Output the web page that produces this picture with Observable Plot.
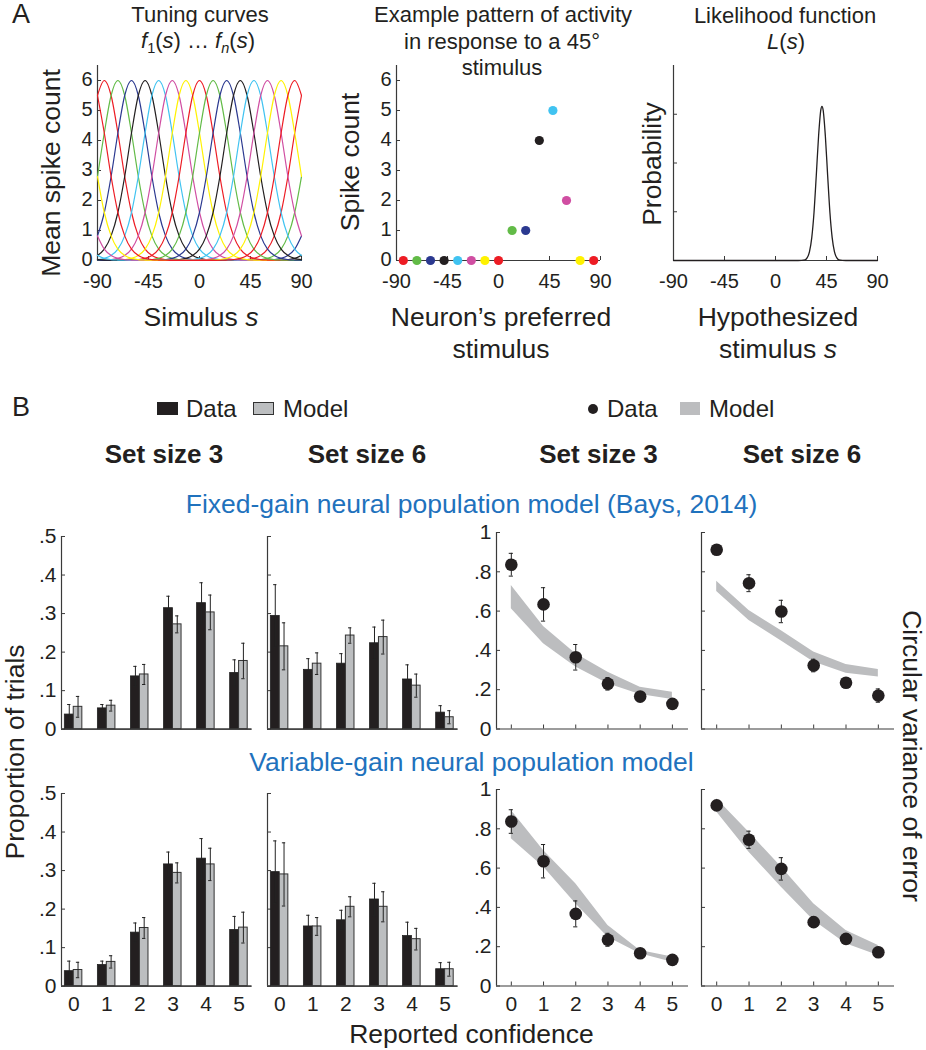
<!DOCTYPE html>
<html>
<head>
<meta charset="utf-8">
<script src="https://cdn.jsdelivr.net/npm/d3@7"></script>
<script src="https://cdn.jsdelivr.net/npm/@observablehq/plot@0.6"></script>
<style>
html,body{margin:0;padding:0;background:#fff;}
#fig{position:relative;width:926px;height:1050px;overflow:hidden;background:#fff;font-family:"Liberation Sans",Arial,Helvetica,sans-serif;color:#231f20;}
.t{position:absolute;white-space:nowrap;line-height:1;transform-origin:50% 50%;}
.box{position:absolute;box-sizing:border-box;}
</style>
</head>
<body>
<div id="fig"></div>
<script>
// ================= Panel A data =================
const stimulusGrid = [-90,-84,-78,-72,-66,-60,-54,-48,-42,-36,-30,-24,-18,-12,-6,0,6,12,18,24,30,36,42,48,54,60,66,72,78,84,90];
const preferredStimuli = [-84,-72,-60,-48,-36,-24,-12,0,12,24,36,48,60,72,84];
// tuning curve height read at distances (deg) from the preferred stimulus
const tuningDistance = [0,6,12,18,24,30,36,42,48,54,60,66,72,78,84,90];
const tuningRate = [6.0,5.5,4.25,2.8,1.6,0.82,0.38,0.17,0.07,0.03,0.015,0.008,0.004,0.003,0.002,0.002];
const spikeCounts = [0,0,0,0,0,0,0,0,1,1,4,5,2,0,0];
const likelihoodS = [-90,20,26,28,30,32,34,36,38,40,41,42,44,46,48,50,52,54,56,62,90];
const likelihoodL = [0,0,0.015,0.058,0.18,0.47,0.99,1.75,2.55,3.09,3.16,3.09,2.55,1.75,0.99,0.47,0.18,0.058,0.015,0,0];
const stimulusTicks = [-90,-45,0,45,90];
const countTicks = [0,1,2,3,4,5,6];
const probabilityTicks = [1,2,3];

// ================= Panel B data =================
const confidence = [0,1,2,3,4,5];
const proportionTicks = [0,0.1,0.2,0.3,0.4,0.5];
const varianceTicks = [0,0.2,0.4,0.6,0.8,1];

// Fixed-gain model: proportion of trials
const fixedSS3Data     = [0.038,0.054,0.137,0.314,0.327,0.146];
const fixedSS3DataErr  = [0.026,0.010,0.026,0.031,0.053,0.034];
const fixedSS3Model    = [0.058,0.061,0.142,0.272,0.303,0.177];
const fixedSS3ModelErr = [0.027,0.014,0.026,0.022,0.045,0.046];
const fixedSS6Data     = [0.294,0.154,0.170,0.223,0.129,0.043];
const fixedSS6DataErr  = [0.081,0.029,0.026,0.042,0.038,0.018];
const fixedSS6Model    = [0.215,0.170,0.243,0.239,0.113,0.031];
const fixedSS6ModelErr = [0.061,0.028,0.020,0.044,0.030,0.017];
// Variable-gain model: proportion of trials
const varSS3Data     = [0.039,0.055,0.139,0.316,0.331,0.146];
const varSS3DataErr  = [0.026,0.010,0.025,0.032,0.052,0.035];
const varSS3Model    = [0.042,0.063,0.151,0.294,0.316,0.152];
const varSS3ModelErr = [0.020,0.016,0.027,0.026,0.042,0.040];
const varSS6Data     = [0.296,0.155,0.171,0.225,0.130,0.044];
const varSS6DataErr  = [0.081,0.029,0.026,0.042,0.036,0.017];
const varSS6Model    = [0.290,0.155,0.206,0.206,0.122,0.044];
const varSS6ModelErr = [0.082,0.023,0.026,0.039,0.028,0.018];

// Circular variance of error
const fixedSS3Var    = [0.836,0.634,0.365,0.230,0.165,0.128];
const fixedSS3VarErr = [0.058,0.085,0.065,0.032,0.024,0.008];
const fixedSS3BandHi = [0.730,0.522,0.383,0.289,0.213,0.187];
const fixedSS3BandLo = [0.612,0.434,0.315,0.230,0.176,0.150];
const fixedSS6Var    = [0.912,0.742,0.598,0.323,0.235,0.170];
const fixedSS6VarErr = [0.015,0.043,0.057,0.032,0.010,0.034];
const fixedSS6BandHi = [0.752,0.603,0.500,0.392,0.328,0.303];
const fixedSS6BandLo = [0.700,0.552,0.448,0.341,0.284,0.264];
const varSS3Var    = [0.837,0.635,0.367,0.235,0.167,0.133];
const varSS3VarErr = [0.060,0.085,0.066,0.033,0.023,0.008];
const varSS3BandHi = [0.893,0.690,0.520,0.308,0.181,0.147];
const varSS3BandLo = [0.749,0.605,0.418,0.248,0.164,0.121];
const varSS6Var    = [0.919,0.744,0.596,0.325,0.240,0.172];
const varSS6VarErr = [0.015,0.044,0.057,0.027,0.010,0.025];
const varSS6BandHi = [0.953,0.783,0.605,0.418,0.282,0.206];
const varSS6BandLo = [0.885,0.681,0.503,0.333,0.215,0.155];

// ================= styles =================
const FONT = '"Liberation Sans", Arial, Helvetica, sans-serif';
const INK = "#231f20";
const AXIS = "#3a3a3a";
const BAR_GRAY = "#bcbec0";
const BAND_GRAY = "#bcbdbf";
const BLUE = "#1f72bd";
const palette = ["#ed1c24","#62bb47","#2b3990","#231f20","#40c3f1","#d04ea2","#fff200"];

const fig = document.getElementById("fig");

function makePlot({left, top, w, h, xd, yd, marks, identity}) {
  const mL = 45, mR = 15, mT = 15, mB = 40;
  const opts = {
    width: mL + w + mR, height: mT + h + mB,
    marginLeft: mL, marginRight: mR, marginTop: mT, marginBottom: mB,
    x: {domain: xd, axis: null},
    y: {domain: yd, axis: null},
    style: {fontFamily: FONT, fontSize: "21px", color: INK, background: "transparent", overflow: "visible", maxWidth: "none"},
    marks
  };
  if (identity) opts.color = {type: "identity"};
  const svg = Plot.plot(opts);
  svg.style.position = "absolute";
  svg.style.left = (left - mL) + "px";
  svg.style.top = (top - mT) + "px";
  fig.appendChild(svg);
}

function frameAxes({xd, yd, w, h, xTicks, yTicks, xLabels, yLabels, xFmt, yFmt, xPad = 10, fs = 21, yDy = 0}) {
  const px = (xd[1] - xd[0]) / w, py = (yd[1] - yd[0]) / h;
  const m = [
    Plot.ruleX([xd[0]], {stroke: AXIS, strokeWidth: 1.2}),
    Plot.ruleY([yd[0]], {stroke: AXIS, strokeWidth: 1.2})
  ];
  if (yTicks) m.push(Plot.ruleY(yTicks, {y: d => d, x1: xd[0], x2: xd[0] + 4 * px, stroke: AXIS}));
  if (xTicks) m.push(Plot.ruleX(xTicks, {x: d => d, y1: yd[0], y2: yd[0] + 4 * py, stroke: AXIS}));
  if (yLabels) m.push(Plot.axisY(yTicks, {tickSize: 0, tickPadding: 5, tickFormat: yFmt, fontSize: fs, label: null, fill: INK, dy: yDy}));
  if (xLabels) m.push(Plot.axisX(xTicks, {tickSize: 0, tickPadding: xPad, tickFormat: xFmt, fontSize: fs, label: null, fill: INK}));
  return m;
}

function txt(html, x, y, o = {}) {
  const el = document.createElement("div");
  el.className = "t";
  el.innerHTML = html;
  el.style.fontSize = (o.size || 22) + "px";
  if (o.bold) el.style.fontWeight = "bold";
  if (o.color) el.style.color = o.color;
  el.style.left = x + "px";
  el.style.top = y + "px";
  const tx = o.anchor === "start" ? "0" : "-50%";
  el.style.transform = `translate(${tx},-50%)` + (o.rotate ? ` rotate(${o.rotate}deg)` : "");
  fig.appendChild(el);
}
function box(x, y, w, h, css) {
  const el = document.createElement("div");
  el.className = "box";
  Object.assign(el.style, {left: x + "px", top: y + "px", width: w + "px", height: h + "px"}, css);
  fig.appendChild(el);
}

const numFmt = d => String(d);
const fracFmt = d => d === 0 ? "0" : d === 1 ? "1" : "." + Math.round(d * 10);

// ================= Panel A =================
// tuning curves
const tuningRows = [];
preferredStimuli.forEach((p, i) => {
  stimulusGrid.forEach(s => {
    let d = Math.abs(s - p) % 180;
    d = Math.min(d, 180 - d);
    tuningRows.push({neuron: i, s, rate: tuningRate[tuningDistance.indexOf(d)], color: palette[i % palette.length]});
  });
});
const aAxis = {xLabels: true, xFmt: numFmt, yFmt: numFmt, xPad: 13.5, fs: 20, yDy: -1};
{
  const g = {w: 204, h: 195, xd: [-90, 90], yd: [0, 6.5]};
  makePlot({left: 97, top: 65, ...g, identity: true, marks: [
    ...frameAxes({...g, ...aAxis, xTicks: stimulusTicks, yTicks: countTicks, yLabels: true}),
    Plot.line(tuningRows, {x: "s", y: "rate", z: "neuron", stroke: "color", strokeWidth: 1.2, curve: "monotone-x"})
  ]});
}
// example spike counts
const spikeRows = preferredStimuli.map((p, i) => ({p, n: spikeCounts[i], color: palette[i % palette.length]}));
{
  const g = {w: 204, h: 195, xd: [-90, 90], yd: [0, 6.5]};
  makePlot({left: 395.5, top: 65, ...g, identity: true, marks: [
    ...frameAxes({...g, ...aAxis, xTicks: stimulusTicks, yTicks: countTicks, yLabels: true}),
    Plot.dot(spikeRows, {x: "p", y: "n", fill: "color", r: 4.6})
  ]});
}
// likelihood
const likeRows = likelihoodS.map((s, i) => ({s, L: likelihoodL[i]}));
{
  const g = {w: 204, h: 195, xd: [-90, 90], yd: [0, 4]};
  makePlot({left: 673, top: 65, ...g, marks: [
    ...frameAxes({...g, ...aAxis, xTicks: stimulusTicks, yTicks: probabilityTicks, yLabels: false}),
    Plot.line(likeRows, {x: "s", y: "L", stroke: INK, strokeWidth: 1.3, curve: "monotone-x"})
  ]});
}

// ================= Panel B =================
function errorBars(rows, fx, v, e, cap) {
  return [
    Plot.ruleX(rows, {x: fx, y1: r => r[v] - r[e], y2: r => r[v] + r[e], stroke: "#222", strokeWidth: 1}),
    Plot.ruleY(rows, {y: r => r[v] + r[e], x1: r => fx(r) - cap, x2: r => fx(r) + cap, stroke: "#222", strokeWidth: 1}),
    Plot.ruleY(rows, {y: r => r[v] - r[e], x1: r => fx(r) - cap, x2: r => fx(r) + cap, stroke: "#222", strokeWidth: 1})
  ];
}

function barPanel(left, top, data, dataErr, model, modelErr, yLabels, xLabels) {
  const g = {w: 190.5, h: 192.7, xd: [-0.37, 5.39], yd: [0, 0.5]};
  const rows = confidence.map((c, i) => ({c, d: data[i], de: dataErr[i], m: model[i], me: modelErr[i]}));
  makePlot({left, top, ...g, marks: [
    ...frameAxes({...g, yTicks: proportionTicks, xTicks: xLabels ? confidence : null, yLabels, xLabels, yFmt: fracFmt, xFmt: numFmt}),
    Plot.rect(rows, {x1: r => r.c - 0.27, x2: r => r.c, y1: 0, y2: "d", fill: INK, stroke: "#222", strokeWidth: 0.8}),
    Plot.rect(rows, {x1: r => r.c, x2: r => r.c + 0.26, y1: 0, y2: "m", fill: BAR_GRAY, stroke: "#333", strokeWidth: 1}),
    ...errorBars(rows, r => r.c - 0.135, "d", "de", 0.05),
    ...errorBars(rows, r => r.c + 0.13, "m", "me", 0.05),
    Plot.ruleY([0], {stroke: AXIS, strokeWidth: 1.2})
  ]});
}

function varPanel(left, top, w, xd, vals, errs, hi, lo, yLabels, xLabels) {
  const g = {w, h: 196.5, xd, yd: [0, 1]};
  const rows = confidence.map((c, i) => ({c, v: vals[i], e: errs[i], hi: hi[i], lo: lo[i]}));
  makePlot({left, top, ...g, marks: [
    Plot.areaY(rows, {x: "c", y1: "lo", y2: "hi", fill: BAND_GRAY}),
    ...frameAxes({...g, yTicks: varianceTicks, xTicks: confidence, yLabels, xLabels, yFmt: fracFmt, xFmt: numFmt}),
    ...errorBars(rows, r => r.c, "v", "e", 0.065),
    Plot.dot(rows, {x: "c", y: "v", r: 6.3, fill: INK})
  ]});
}

// top row: fixed-gain
barPanel(61, 536, fixedSS3Data, fixedSS3DataErr, fixedSS3Model, fixedSS3ModelErr, true, false);
barPanel(266.7, 536, fixedSS6Data, fixedSS6DataErr, fixedSS6Model, fixedSS6ModelErr, false, false);
varPanel(496, 532, 192, [-0.46, 5.5], fixedSS3Var, fixedSS3VarErr, fixedSS3BandHi, fixedSS3BandLo, true, false);
varPanel(700.7, 532, 193, [-0.47, 5.5], fixedSS6Var, fixedSS6VarErr, fixedSS6BandHi, fixedSS6BandLo, false, false);
// bottom row: variable-gain
barPanel(61, 793, varSS3Data, varSS3DataErr, varSS3Model, varSS3ModelErr, true, true);
barPanel(266.7, 793, varSS6Data, varSS6DataErr, varSS6Model, varSS6ModelErr, false, true);
varPanel(496, 789, 192, [-0.46, 5.5], varSS3Var, varSS3VarErr, varSS3BandHi, varSS3BandLo, true, true);
varPanel(700.7, 789, 193, [-0.47, 5.5], varSS6Var, varSS6VarErr, varSS6BandHi, varSS6BandLo, false, true);

// ================= Text =================
const sub = s => `<span style="font-size:0.66em;position:relative;top:0.32em">${s}</span>`;
txt("A", 12, 14, {size: 27, anchor: "start"});
txt("Tuning curves", 200, 15, {size: 22});
txt(`<i>f</i>${sub("1")}(<i>s</i>) … <i>f</i>${sub("<i>n</i>")}(<i>s</i>)`, 198, 41, {size: 22});
txt("Example pattern of activity", 503, 15, {size: 22});
txt("in response to a 45°", 502, 41.5, {size: 22});
txt("stimulus", 502, 68, {size: 22});
txt("Likelihood function", 785, 16, {size: 22});
txt("<i>L</i>(<i>s</i>)", 786, 42, {size: 22});

txt("Mean spike count", 50.5, 172.5, {size: 26.5, rotate: -90});
txt("Spike count", 349.5, 161.5, {size: 26.5, rotate: -90});
txt("Probability", 651.5, 164, {size: 26.5, rotate: -90});

txt("Simulus <i>s</i>", 201, 316.5, {size: 26.5});
txt("Neuron’s preferred", 501, 316.5, {size: 26.5});
txt("stimulus", 501, 349, {size: 26.5});
txt("Hypothesized", 778, 316.5, {size: 26.5});
txt("stimulus <i>s</i>", 778, 349, {size: 26.5});

txt("B", 12, 407, {size: 27, anchor: "start"});
// bar legend
box(157, 402, 21, 13, {background: INK, border: "1px solid #222"});
txt("Data", 186, 408.5, {size: 24, anchor: "start"});
box(253, 402, 21, 13, {background: BAR_GRAY, border: "1.5px solid #333"});
txt("Model", 283, 408.5, {size: 24, anchor: "start"});
// line legend
box(587.5, 403.5, 10, 10, {background: INK, borderRadius: "50%"});
txt("Data", 607, 408.5, {size: 24, anchor: "start"});
box(680, 402, 20, 13, {background: BAND_GRAY});
txt("Model", 709, 408.5, {size: 24, anchor: "start"});

txt("Set size 3", 164, 454, {size: 26, bold: true});
txt("Set size 6", 367, 454, {size: 26, bold: true});
txt("Set size 3", 598.5, 454, {size: 26, bold: true});
txt("Set size 6", 802, 454, {size: 26, bold: true});

txt("Fixed-gain neural population model (Bays, 2014)", 471.5, 504, {size: 26.5, color: BLUE});
txt("Variable-gain neural population model", 471.5, 761.5, {size: 26.5, color: BLUE});

txt("Proportion of trials", 14.5, 752, {size: 26.5, rotate: -90});
txt("Circular variance of error", 911.5, 756, {size: 26.5, rotate: 90});
txt("Reported confidence", 471.5, 1034, {size: 26.5});
</script>
</body>
</html>
